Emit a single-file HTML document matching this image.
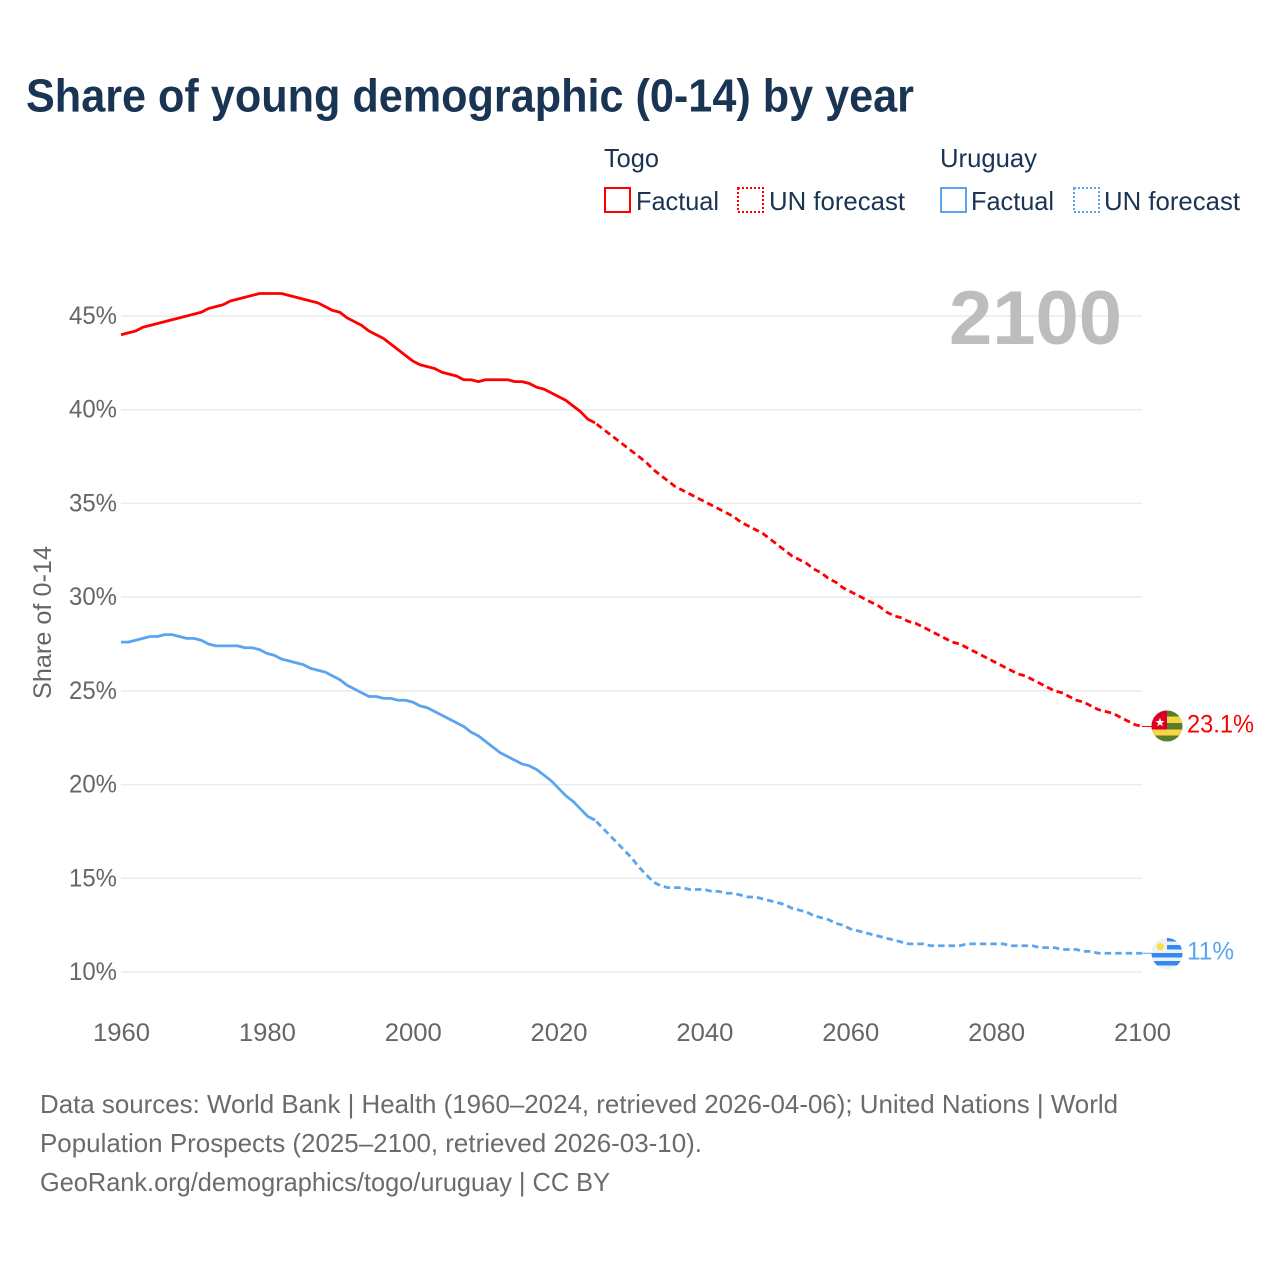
<!DOCTYPE html>
<html lang="en">
<head>
<meta charset="utf-8">
<title>Share of young demographic (0-14) by year</title>
<style>
html,body{margin:0;padding:0;background:#fff;width:1280px;height:1280px;overflow:hidden}
svg{display:block}
text{font-family:"Liberation Sans",Arial,sans-serif}
</style>
</head>
<body>
<svg id="chart" xmlns="http://www.w3.org/2000/svg" width="1280" height="1280" viewBox="0 0 1280 1280">
  <defs>
    <clipPath id="flag-clip-togo"><circle cx="1167" cy="726" r="15.5"/></clipPath>
    <clipPath id="flag-clip-uruguay"><circle cx="1167" cy="953.5" r="15.5"/></clipPath>
  </defs>
  <rect x="0" y="0" width="1280" height="1280" fill="#fff"/>
  <text x="26" y="111.5" font-size="46" font-weight="700" fill="#1a3454" textLength="888" lengthAdjust="spacingAndGlyphs">Share of young demographic (0-14) by year</text>

  <g>
    <text x="604" y="167" font-size="26" fill="#1a3454" textLength="55" lengthAdjust="spacingAndGlyphs">Togo</text>
    <rect x="605" y="188" width="25" height="24" fill="none" stroke="#ff0000" stroke-width="2"/>
    <text x="636" y="210" font-size="26" fill="#1a3454" textLength="83" lengthAdjust="spacingAndGlyphs">Factual</text>
    <rect x="738" y="188" width="25" height="24" fill="none" stroke="#ff0000" stroke-width="2" stroke-dasharray="2 2"/>
    <text x="769" y="210" font-size="26" fill="#1a3454" textLength="136" lengthAdjust="spacingAndGlyphs">UN forecast</text>
    <text x="940" y="167" font-size="26" fill="#1a3454" textLength="97" lengthAdjust="spacingAndGlyphs">Uruguay</text>
    <rect x="941" y="188" width="25" height="24" fill="none" stroke="#5ba5ee" stroke-width="2"/>
    <text x="971" y="210" font-size="26" fill="#1a3454" textLength="83" lengthAdjust="spacingAndGlyphs">Factual</text>
    <rect x="1074" y="188" width="25" height="24" fill="none" stroke="#5ba5ee" stroke-width="2" stroke-dasharray="2 2"/>
    <text x="1104" y="210" font-size="26" fill="#1a3454" textLength="136" lengthAdjust="spacingAndGlyphs">UN forecast</text>
  </g>

  <g id="grid"></g>
  <g id="y-ticks"></g>
  <g id="x-ticks"></g>
  <text transform="translate(51,699) rotate(-90)" font-size="25" fill="#666666" textLength="153" lengthAdjust="spacingAndGlyphs">Share of 0-14</text>
  <text x="949" y="344" font-size="76" font-weight="700" fill="#bdbdbd" textLength="173" lengthAdjust="spacingAndGlyphs">2100</text>

  <g id="series"></g>

  <g clip-path="url(#flag-clip-togo)">
    <rect x="1151" y="710" width="32" height="32" fill="#5a7d2a"/>
    <rect x="1151" y="716.5" width="32" height="6.5" fill="#f7d544"/>
    <rect x="1151" y="729.5" width="32" height="6" fill="#f7d544"/>
    <rect x="1151" y="710" width="16" height="19.5" fill="#d80027"/>
    <polygon points="1160,717.6 1161.2,720.9 1164.6,721 1161.9,723.1 1162.9,726.4 1160,724.5 1157.1,726.4 1158.1,723.1 1155.4,721 1158.8,720.9" fill="#f4f0ee"/>
  </g>
  <g clip-path="url(#flag-clip-uruguay)">
    <rect x="1151" y="938" width="32" height="32" fill="#f0f0f0"/>
    <rect x="1167" y="938" width="16" height="3.5" fill="#338af3"/>
    <rect x="1167" y="945" width="16" height="4.5" fill="#338af3"/>
    <rect x="1151" y="953" width="32" height="4.5" fill="#338af3"/>
    <rect x="1151" y="961" width="32" height="4.5" fill="#338af3"/>
    <circle cx="1160.3" cy="946.7" r="3.6" fill="#ffda44"/>
  </g>

  <text x="1187" y="732.5" font-size="25" fill="#ff0000" textLength="67" lengthAdjust="spacingAndGlyphs">23.1%</text>
  <text x="1187" y="959.5" font-size="25" fill="#5ba5ee" textLength="47" lengthAdjust="spacingAndGlyphs">11%</text>

  <g>
    <text x="40" y="1113" font-size="26" fill="#6b6b6b" textLength="1078" lengthAdjust="spacingAndGlyphs">Data sources: World Bank | Health (1960–2024, retrieved 2026-04-06); United Nations | World</text>
    <text x="40" y="1152" font-size="26" fill="#6b6b6b" textLength="662" lengthAdjust="spacingAndGlyphs">Population Prospects (2025–2100, retrieved 2026-03-10).</text>
    <text x="40" y="1191" font-size="26" fill="#6b6b6b" textLength="570" lengthAdjust="spacingAndGlyphs">GeoRank.org/demographics/togo/uruguay | CC BY</text>
  </g>
</svg>
<script>
const xTickYears = [1960, 1980, 2000, 2020, 2040, 2060, 2080, 2100];
const yTickValues = [10, 15, 20, 25, 30, 35, 40, 45];
const factualStartYear = 1960;
const forecastStartYear = 2025;

const togoFactual = [44.0,44.1,44.2,44.4,44.5,44.6,44.7,44.8,44.9,45.0,45.1,45.2,45.4,45.5,45.6,45.8,45.9,46.0,46.1,46.2,46.2,46.2,46.2,46.1,46.0,45.9,45.8,45.7,45.5,45.3,45.2,44.9,44.7,44.5,44.2,44.0,43.8,43.5,43.2,42.9,42.6,42.4,42.3,42.2,42.0,41.9,41.8,41.6,41.6,41.5,41.6,41.6,41.6,41.6,41.5,41.5,41.4,41.2,41.1,40.9,40.7,40.5,40.2,39.9,39.5,39.3];
const togoForecast = [39.3,39.0,38.7,38.4,38.1,37.8,37.5,37.2,36.8,36.5,36.2,35.9,35.7,35.5,35.3,35.1,34.9,34.7,34.5,34.3,34.0,33.8,33.6,33.4,33.1,32.8,32.5,32.2,32.0,31.8,31.5,31.3,31.0,30.8,30.5,30.3,30.1,29.9,29.7,29.5,29.2,29.0,28.9,28.7,28.6,28.4,28.2,28.0,27.8,27.6,27.5,27.3,27.1,26.9,26.7,26.5,26.3,26.1,25.9,25.8,25.6,25.4,25.2,25.0,24.9,24.7,24.5,24.4,24.2,24.0,23.9,23.8,23.6,23.4,23.2,23.1];
const uruguayFactual = [27.6,27.6,27.7,27.8,27.9,27.9,28.0,28.0,27.9,27.8,27.8,27.7,27.5,27.4,27.4,27.4,27.4,27.3,27.3,27.2,27.0,26.9,26.7,26.6,26.5,26.4,26.2,26.1,26.0,25.8,25.6,25.3,25.1,24.9,24.7,24.7,24.6,24.6,24.5,24.5,24.4,24.2,24.1,23.9,23.7,23.5,23.3,23.1,22.8,22.6,22.3,22.0,21.7,21.5,21.3,21.1,21.0,20.8,20.5,20.2,19.8,19.4,19.1,18.7,18.3,18.1];
const uruguayForecast = [18.1,17.7,17.3,16.9,16.5,16.1,15.6,15.2,14.8,14.6,14.5,14.5,14.5,14.4,14.4,14.4,14.3,14.3,14.2,14.2,14.1,14.0,14.0,13.9,13.8,13.7,13.6,13.4,13.3,13.2,13.0,12.9,12.8,12.6,12.5,12.3,12.2,12.1,12.0,11.9,11.8,11.7,11.6,11.5,11.5,11.5,11.4,11.4,11.4,11.4,11.4,11.5,11.5,11.5,11.5,11.5,11.5,11.4,11.4,11.4,11.4,11.3,11.3,11.3,11.2,11.2,11.2,11.1,11.1,11.0,11.0,11.0,11.0,11.0,11.0,11.0];

const NS = 'http://www.w3.org/2000/svg';
const xScale = year => 121 + (year - 1960) * (1021 / 140);
const yScale = value => 972 - (value - 10) * 18.743;

function makeEl(tag, attrs, parentId) {
  const el = document.createElementNS(NS, tag);
  for (const k in attrs) el.setAttribute(k, attrs[k]);
  document.getElementById(parentId).appendChild(el);
  return el;
}

yTickValues.forEach(v => {
  const line = makeEl('line', {x1: 121, x2: 1142, y1: yScale(v), y2: yScale(v), stroke: '#ebebeb', 'stroke-width': 1.5}, 'grid');
  
  
  const label = makeEl('text', {x: 117, y: yScale(v) + 8, 'text-anchor': 'end', 'font-size': 25, fill: '#666666', textLength: 48, lengthAdjust: 'spacingAndGlyphs'}, 'y-ticks');
  label.textContent = v + '%';
  
  
});

xTickYears.forEach(year => {
  const label = makeEl('text', {x: xScale(year) + 0.5, y: 1041, 'text-anchor': 'middle', 'font-size': 25, fill: '#666666', textLength: 57, lengthAdjust: 'spacingAndGlyphs'}, 'x-ticks');
  label.textContent = String(year);
  
  
});

function pathFor(values, startYear) {
  return values.map((v, i) => (i ? 'L' : 'M') + xScale(startYear + i).toFixed(2) + ' ' + yScale(v).toFixed(2)).join(' ');
}

const factualTogo = makeEl('path', {d: pathFor(togoFactual, factualStartYear), fill: 'none', stroke: '#ff0000', 'stroke-width': 2.8, 'stroke-linejoin': 'round'}, 'series');



const forecastTogo = makeEl('path', {d: pathFor(togoForecast, forecastStartYear), fill: 'none', stroke: '#ff0000', 'stroke-width': 2.8, 'stroke-dasharray': '6.5 4', 'stroke-dashoffset': 8.5}, 'series');



const factualUruguay = makeEl('path', {d: pathFor(uruguayFactual, factualStartYear), fill: 'none', stroke: '#5ba5ee', 'stroke-width': 2.8, 'stroke-linejoin': 'round'}, 'series');



const forecastUruguay = makeEl('path', {d: pathFor(uruguayForecast, forecastStartYear), fill: 'none', stroke: '#5ba5ee', 'stroke-width': 2.8, 'stroke-dasharray': '6.5 4', 'stroke-dashoffset': 8.5}, 'series');



const togoEnd = yScale(togoForecast[togoForecast.length - 1]);
const connectorTogo = makeEl('line', {x1: 1142, x2: 1152, y1: togoEnd, y2: togoEnd, stroke: '#ff0000', 'stroke-width': 1}, 'series');



const uruguayEnd = yScale(uruguayForecast[uruguayForecast.length - 1]);
const connectorUruguay = makeEl('line', {x1: 1142, x2: 1152, y1: uruguayEnd, y2: uruguayEnd, stroke: '#5ba5ee', 'stroke-width': 1}, 'series');


</script>
</body>
</html>
